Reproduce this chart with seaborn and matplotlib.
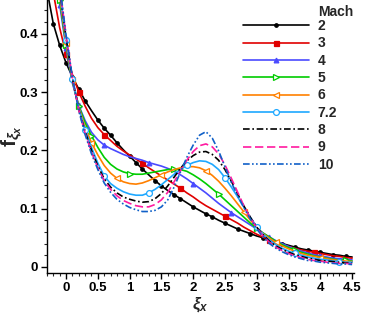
import numpy as np
import pandas as pd
import matplotlib
matplotlib.use("Agg")
import matplotlib.pyplot as plt
from matplotlib.ticker import MultipleLocator
import seaborn as sns

# sample points along xi_x
xi = [-0.3, -0.2, -0.1, 0.0, 0.1, 0.2, 0.3, 0.4, 0.5, 0.6,
      0.7, 0.8, 0.9, 1.0, 1.1, 1.2, 1.3, 1.4, 1.5, 1.6,
      1.7, 1.8, 1.9, 2.0, 2.1, 2.2, 2.3, 2.4, 2.5, 2.6,
      2.7, 2.8, 2.9, 3.0, 3.1, 3.2, 3.3, 3.4, 3.5, 3.6,
      3.7, 3.8, 3.9, 4.0, 4.1, 4.2, 4.3, 4.4, 4.5]

f_m2 = [0.475, 0.417, 0.38, 0.35, 0.326, 0.305, 0.285, 0.268, 0.252, 0.238,
        0.226, 0.213, 0.201, 0.19, 0.179, 0.168, 0.158, 0.148, 0.139, 0.131,
        0.124, 0.117, 0.11, 0.103, 0.097, 0.091, 0.086, 0.08, 0.075, 0.07,
        0.065, 0.061, 0.057, 0.053, 0.05, 0.046, 0.043, 0.04, 0.037, 0.034,
        0.031, 0.029, 0.027, 0.025, 0.023, 0.021, 0.02, 0.018, 0.017]
f_m3 = [0.55, 0.47, 0.41, 0.365, 0.33, 0.3, 0.276, 0.255, 0.239, 0.227,
        0.217, 0.207, 0.199, 0.192, 0.185, 0.178, 0.17, 0.163, 0.156, 0.149,
        0.142, 0.135, 0.127, 0.12, 0.112, 0.105, 0.099, 0.093, 0.087, 0.081,
        0.075, 0.068, 0.062, 0.056, 0.051, 0.046, 0.042, 0.038, 0.035, 0.032,
        0.029, 0.027, 0.025, 0.023, 0.021, 0.019, 0.018, 0.016, 0.015]
f_m4 = [0.62, 0.53, 0.45, 0.375, 0.315, 0.277, 0.251, 0.231, 0.218, 0.209,
        0.203, 0.198, 0.193, 0.189, 0.186, 0.183, 0.179, 0.176, 0.173, 0.169,
        0.164, 0.158, 0.151, 0.143, 0.135, 0.127, 0.118, 0.109, 0.101, 0.093,
        0.086, 0.079, 0.072, 0.065, 0.058, 0.051, 0.045, 0.04, 0.035, 0.031,
        0.027, 0.024, 0.021, 0.019, 0.017, 0.015, 0.014, 0.013, 0.012]
f_m5 = [0.63, 0.545, 0.458, 0.38, 0.318, 0.276, 0.247, 0.225, 0.205, 0.188,
        0.176, 0.168, 0.163, 0.16, 0.159, 0.159, 0.161, 0.163, 0.165, 0.167,
        0.168, 0.167, 0.164, 0.158, 0.151, 0.143, 0.134, 0.125, 0.115, 0.105,
        0.095, 0.085, 0.075, 0.066, 0.058, 0.051, 0.044, 0.038, 0.033, 0.029,
        0.025, 0.022, 0.019, 0.017, 0.015, 0.013, 0.012, 0.011, 0.010]
f_m6 = [0.64, 0.555, 0.465, 0.385, 0.32, 0.274, 0.24, 0.213, 0.192, 0.174,
        0.161, 0.152, 0.146, 0.143, 0.142, 0.144, 0.148, 0.153, 0.158, 0.163,
        0.167, 0.17, 0.172, 0.172, 0.17, 0.165, 0.157, 0.147, 0.135, 0.122,
        0.108, 0.094, 0.08, 0.068, 0.057, 0.049, 0.042, 0.036, 0.031, 0.027,
        0.023, 0.02, 0.018, 0.016, 0.014, 0.012, 0.011, 0.01, 0.009]
f_m72 = [0.65, 0.565, 0.472, 0.39, 0.322, 0.272, 0.235, 0.205, 0.178, 0.156,
         0.143, 0.135, 0.129, 0.125, 0.123, 0.123, 0.127, 0.133, 0.141, 0.15,
         0.159, 0.167, 0.174, 0.179, 0.182, 0.181, 0.176, 0.167, 0.153, 0.137,
         0.12, 0.102, 0.085, 0.069, 0.056, 0.046, 0.038, 0.032, 0.027, 0.023,
         0.02, 0.017, 0.015, 0.013, 0.012, 0.01, 0.009, 0.008, 0.008]
f_m8 = [0.66, 0.57, 0.476, 0.393, 0.323, 0.27, 0.232, 0.2, 0.173, 0.151,
        0.137, 0.127, 0.12, 0.116, 0.113, 0.111, 0.112, 0.117, 0.126, 0.139,
        0.154, 0.169, 0.182, 0.191, 0.197, 0.198, 0.193, 0.183, 0.167, 0.147,
        0.125, 0.104, 0.085, 0.068, 0.055, 0.044, 0.036, 0.03, 0.025, 0.021,
        0.018, 0.015, 0.013, 0.011, 0.01, 0.009, 0.008, 0.007, 0.006]
f_m9 = [0.67, 0.575, 0.48, 0.396, 0.324, 0.269, 0.229, 0.197, 0.17, 0.148,
        0.133, 0.122, 0.114, 0.109, 0.105, 0.103, 0.103, 0.107, 0.115, 0.128,
        0.146, 0.165, 0.183, 0.198, 0.208, 0.211, 0.206, 0.194, 0.175, 0.152,
        0.128, 0.104, 0.084, 0.067, 0.053, 0.042, 0.034, 0.028, 0.023, 0.019,
        0.016, 0.013, 0.011, 0.01, 0.008, 0.007, 0.006, 0.006, 0.005]
f_m10 = [0.68, 0.58, 0.484, 0.398, 0.325, 0.268, 0.227, 0.194, 0.167, 0.144,
         0.128, 0.116, 0.108, 0.102, 0.098, 0.095, 0.095, 0.097, 0.103, 0.115,
         0.137, 0.163, 0.188, 0.209, 0.226, 0.232, 0.221, 0.199, 0.172, 0.145,
         0.122, 0.101, 0.082, 0.065, 0.051, 0.04, 0.032, 0.026, 0.021, 0.017,
         0.014, 0.011, 0.01, 0.008, 0.007, 0.006, 0.005, 0.005, 0.004]

mach_labels = ["2", "3", "4", "5", "6", "7.2", "8", "9", "10"]
series = [f_m2, f_m3, f_m4, f_m5, f_m6, f_m72, f_m8, f_m9, f_m10]

colors = ["#000000", "#e00000", "#4a4aff", "#00cc00", "#ff8000",
          "#1ea8ff", "#000000", "#ff1aa0", "#1060c8"]
styles = ["-", "-", "-", "-", "-", "-",
          (0, (4, 1.6, 1, 1.6)), (0, (5, 2.2)), (0, (4, 1.4, 1, 1.4, 1, 1.4))]
markers = ["o", "s", "^", ">", "<", "o", None, None, None]
msizes = [2.5, 3.6, 3.4, 4.2, 4.2, 4.2, 0, 0, 0]
openface = [False, False, False, True, True, True, False, False, False]
mevery = [0.03, 0.12, 0.12, 0.12, 0.12, 0.12, None, None, None]

sns.set_style("ticks")
plt.rcParams["font.family"] = ["Liberation Sans", "DejaVu Sans"]
plt.rcParams["font.weight"] = "bold"
plt.rcParams["mathtext.fontset"] = "custom"
plt.rcParams["mathtext.rm"] = "Liberation Sans"
plt.rcParams["mathtext.it"] = "Liberation Sans:italic"
plt.rcParams["mathtext.bf"] = "Liberation Sans:bold"

fig = plt.figure(figsize=(3.66, 3.17), dpi=100)
ax = fig.add_axes([47 / 366, 44 / 317, 307 / 366, 273 / 317])

for lab, vals, c, ls, mk, ms, op, me in zip(mach_labels, series, colors, styles,
                                             markers, msizes, openface, mevery):
    df = pd.DataFrame({"xi": xi, "f": vals})
    kw = dict(color=c, linestyle=ls, linewidth=1.2, label=lab)
    if mk is not None:
        kw.update(marker=mk, markersize=ms, markevery=me,
                  markeredgecolor=c, markeredgewidth=0.9,
                  markerfacecolor="white" if op else c)
    sns.lineplot(data=df, x="xi", y="f", ax=ax, **kw)

ax.set_xlim(-0.3, 4.53)
ax.set_ylim(-0.0105, 0.458)
ax.xaxis.set_minor_locator(MultipleLocator(0.1))
ax.yaxis.set_minor_locator(MultipleLocator(0.02))
ax.set_xticks([0, 0.5, 1, 1.5, 2, 2.5, 3, 3.5, 4, 4.5])
ax.set_xticklabels(["0", "0.5", "1", "1.5", "2", "2.5", "3", "3.5", "4", "4.5"])
ax.set_yticks([0, 0.1, 0.2, 0.3, 0.4])
ax.set_yticklabels(["0", "0.1", "0.2", "0.3", "0.4"])
ax.tick_params(which="major", direction="out", length=4.5, width=1,
               labelsize=9.5, pad=2, colors="black")
ax.tick_params(which="minor", direction="out", length=2.5, width=0.8)
for t in ax.get_xticklabels() + ax.get_yticklabels():
    t.set_fontweight("bold")
sns.despine(ax=ax)
for s in ["left", "bottom"]:
    ax.spines[s].set_linewidth(1.0)
    ax.spines[s].set_color("black")
ax.grid(False)

ax.set_xlabel(r"$\xi_x$", fontsize=12, labelpad=1)
ax.set_ylabel(r"$\mathbf{f}_{\xi_x}$", fontsize=15)
ax.yaxis.set_label_coords(-0.075, 0.5)

leg = ax.legend(loc="upper right", bbox_to_anchor=(0.945, 0.93),
                frameon=False, fontsize=10, handlelength=4.8,
                handletextpad=0.6, labelspacing=0.24, borderpad=0,
                borderaxespad=0)
for t in leg.get_texts():
    t.set_fontweight("bold")

# legend title placed over the label column
fig.canvas.draw()
bb = leg.get_texts()[0].get_window_extent().transformed(ax.transAxes.inverted())
ax.text(bb.x0, 0.98, "Mach", transform=ax.transAxes, fontsize=10,
        fontweight="bold", ha="left", va="top")

fig.savefig("out.png", dpi=100)
